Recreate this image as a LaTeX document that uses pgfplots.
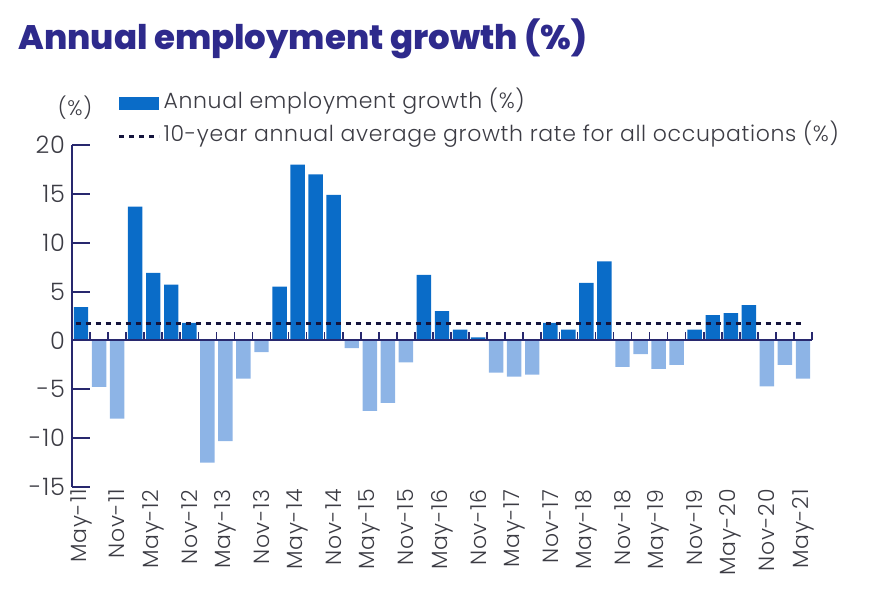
\documentclass[border=0pt]{standalone}
\usepackage{pgfplots}
\pgfplotsset{compat=1.18}
\usepackage{fontspec}
\setmainfont{Poppins}[UprightFont={* Light}, BoldFont={* Bold}, LetterSpace=3]
\newfontfamily\titlefont{Poppins}[UprightFont={* ExtraBold}]
\definecolor{barblue}{RGB}{10,108,200}
\definecolor{negblue}{RGB}{141,180,230}
\definecolor{navy}{RGB}{40,40,110}
\definecolor{dotc}{RGB}{20,20,60}
\definecolor{titlec}{RGB}{46,42,140}
\definecolor{txt}{RGB}{60,60,68}
\begin{document}
\begin{tikzpicture}
\path[use as bounding box] (0,0) rectangle (435pt,299pt);
\node[anchor=base west, inner sep=0, text=titlec, font=\fontsize{17}{20}\titlefont] at (9pt,274pt) {Annual employment growth (\%)};
\node[text=txt, font=\fontsize{10.5}{12}\selectfont, inner sep=0] at (37.5pt,245pt) {(\%)};
\begin{axis}[at={(36pt,55.5pt)}, anchor=south west, scale only axis,
  width=370pt, height=171pt,
  xmin=-0.5, xmax=40.5, ymin=-15, ymax=20,
  axis y line*=left, axis x line*=bottom,
  x axis line style={draw=none},
  y axis line style={-, navy, line width=1.2pt},
  tick align=inside, major tick length=9pt,
  ytick={-15,-10,...,20},
  ytick style={navy, line width=1pt},
  xtick={0,2,...,40},
  xtick style={draw=none},
  xticklabels={May-11,Nov-11,May-12,Nov-12,May-13,Nov-13,May-14,Nov-14,May-15,Nov-15,May-16,Nov-16,May-17,Nov-17,May-18,Nov-18,May-19,Nov-19,May-20,Nov-20,May-21},
  xticklabel style={rotate=90, anchor=east, font=\fontsize{11}{12}\selectfont, text=txt, inner sep=1pt},
  yticklabel style={font=\fontsize{12}{14}\selectfont, text=txt},
  /pgf/number format/assume math mode=true,
  clip=false,
  legend style={at={(axis description cs:0.061,1.16)}, anchor=north west, draw=none, fill=none,
    inner sep=0pt, row sep=4pt, font=\fontsize{11}{12}\selectfont, text=txt,
    nodes={inner sep=1.5pt, text height=7.5pt, text depth=2pt}},
  legend cell align=left,
]
\addplot[ybar, bar width=0.8, bar shift=0pt, fill=barblue, draw=none,
  legend image code/.code={\fill[barblue] (0pt,-3.25pt) rectangle (20pt,3.25pt);}]
coordinates {(0,3.4) (3,13.7) (4,6.9) (5,5.7) (6,1.8) (11,5.5) (12,18.0) (13,17.0) (14,14.9) (19,6.7) (20,3.0) (21,1.1) (22,0.3) (26,1.8) (27,1.1) (28,5.9) (29,8.1) (34,1.1) (35,2.6) (36,2.8) (37,3.6)};
\addlegendentry{Annual employment growth (\%)}
\addplot[ybar, bar width=0.8, bar shift=0pt, fill=negblue, draw=none, forget plot]
coordinates {(1,-4.75) (2,-8.0) (7,-12.5) (8,-10.3) (9,-3.9) (10,-1.2) (15,-0.8) (16,-7.2) (17,-6.4) (18,-2.25) (23,-3.3) (24,-3.7) (25,-3.5) (30,-2.7) (31,-1.4) (32,-2.9) (33,-2.5) (38,-4.7) (39,-2.5) (40,-3.9)};
\draw[navy, line width=1pt] (axis cs:-0.5,0) -- (axis cs:40.5,0);
\pgfplotsinvokeforeach{-0.5,0.5,...,40.5}{\draw[navy, line width=0.8pt] (axis cs:#1,0) -- ++(0pt,4pt);}
\addplot[dotc, line width=1.5pt, dash pattern=on 2.5pt off 2.5pt, mark=none,
  legend image code/.code={\draw[dotc, line width=1.5pt, dash pattern=on 2.5pt off 2.5pt] (0pt,0pt) -- (20pt,0pt);}]
coordinates {(-0.3,1.7) (40,1.7)};
\addlegendentry{10-year annual average growth rate for all occupations (\%)}
\end{axis}
\end{tikzpicture}
\end{document}
